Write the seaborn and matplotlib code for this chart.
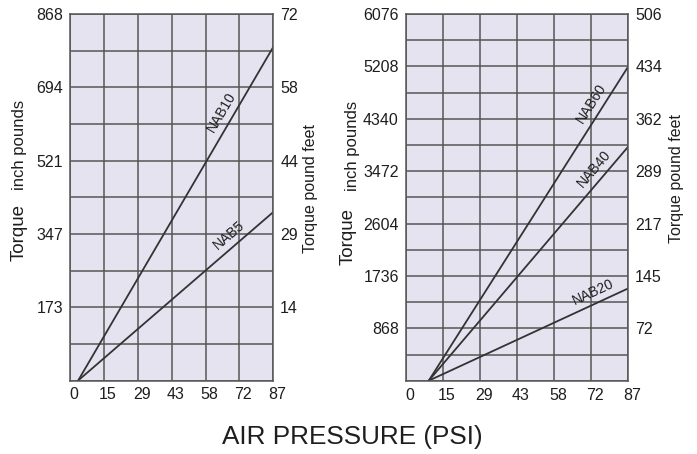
import numpy as np
import pandas as pd
import matplotlib
matplotlib.use("Agg")
import matplotlib.pyplot as plt
import seaborn as sns
from matplotlib.transforms import ScaledTranslation

# x axis (shared by both panels)
psi_labels = ["0", "15", "29", "43", "58", "72", "87"]
psi_max = 87

# small actuators panel
small_inlb_labels = ["173", "347", "521", "694", "868"]
small_ftlb_labels = ["14", "29", "44", "58", "72"]
small_inlb_max = 868
small_psi = [3.5, 87]
nab10 = [0, 790]
nab5 = [0, 399]

# large actuators panel
large_inlb_labels = ["868", "1736", "2604", "3472", "4340", "5208", "6076"]
large_ftlb_labels = ["72", "145", "217", "289", "362", "434", "506"]
large_inlb_max = 6076
large_psi = [9, 87]
nab60 = [0, 5208]
nab40 = [0, 3880]
nab20 = [0, 1530]

face_c = "#e6e3f0"
grid_c = "#565656"
line_c = "#333333"
text_c = "#1e1e1e"

sns.set_theme(style="white")
plt.rcParams["font.family"] = ["Liberation Sans", "DejaVu Sans"]


def make_df(psi, series):
    rows = []
    for name, vals in series.items():
        for p, v in zip(psi, vals):
            rows.append({"model": name, "psi": p, "torque": v})
    return pd.DataFrame(rows)


df_small = make_df(small_psi, {"NAB10": nab10, "NAB5": nab5})
df_large = make_df(large_psi, {"NAB60": nab60, "NAB40": nab40, "NAB20": nab20})

fig = plt.figure(figsize=(6.97, 4.54), dpi=100)
ax_l = fig.add_axes([70 / 697, 1 - 380.5 / 454, 203.3 / 697, 366.5 / 454])
ax_r = fig.add_axes([405.7 / 697, 1 - 380.7 / 454, 222.6 / 697, 366.7 / 454])


def draw_panel(ax, df, ymax, left_labels, right_labels, label_x, lab_pos):
    ax.set_facecolor(face_c)
    models = df["model"].unique().tolist()
    sns.lineplot(data=df, x="psi", y="torque", hue="model", hue_order=models,
                 palette={m: line_c for m in models}, legend=False, ax=ax, lw=1.3)
    ax.set_xlim(0, psi_max)
    ax.set_ylim(0, ymax)
    n = len(left_labels)
    major = np.linspace(0, ymax, n + 1)[1:]
    minor = np.linspace(0, ymax, 2 * n + 1)
    ax.set_yticks(major, labels=left_labels)
    ax.set_yticks(minor, minor=True)
    ax.set_xticks(np.linspace(0, psi_max, len(psi_labels)), labels=psi_labels)
    ax.grid(True, which="both", color=grid_c, lw=1.1)
    ax.set_axisbelow(True)
    ax.tick_params(which="both", length=0, pad=5, labelsize=11.5, colors=text_c)
    ax.set_xlabel("")
    ax.set_ylabel("")
    for sp in ax.spines.values():
        sp.set_color(grid_c)
        sp.set_linewidth(1.1)
    shift = ScaledTranslation(0.04, 0, fig.dpi_scale_trans)
    for lab in ax.get_xticklabels():
        lab.set_transform(lab.get_transform() + shift)

    ax2 = ax.twinx()
    ax2.set_ylim(0, ymax)
    ax2.set_yticks(major, labels=right_labels)
    ax2.tick_params(length=0, pad=5, labelsize=11.5, colors=text_c)
    for sp in ax2.spines.values():
        sp.set_visible(False)

    # labels written along each line
    for name in models:
        d = df[df["model"] == name]
        x0, x1 = d["psi"].iloc[0], d["psi"].iloc[1]
        y0, y1 = d["torque"].iloc[0], d["torque"].iloc[1]
        p0 = ax.transData.transform((x0, y0))
        p1 = ax.transData.transform((x1, y1))
        ang = np.arctan2(p1[1] - p0[1], p1[0] - p0[0])
        xa = label_x[name]
        ya = y0 + (y1 - y0) * (xa - x0) / (x1 - x0)
        off = 8.3
        ax.annotate(name, xy=(xa, ya), xytext=(-np.sin(ang) * off, np.cos(ang) * off),
                    textcoords="offset points", rotation=np.degrees(ang),
                    rotation_mode="anchor", ha="center", va="center",
                    fontsize=10, color=text_c)

    # axis titles
    ax.annotate("inch pounds", xy=(0, lab_pos["inch_y"]), xycoords="axes fraction",
                xytext=(lab_pos["inch_dx"] * 0.72, 0), textcoords="offset points",
                rotation=90, ha="center", va="center", fontsize=12, color=text_c)
    ax.annotate("Torque", xy=(0, lab_pos["torque_y"]), xycoords="axes fraction",
                xytext=(lab_pos["torque_dx"] * 0.72, 0), textcoords="offset points",
                rotation=90, ha="center", va="center", fontsize=13.5, color=text_c)
    ax.annotate("Torque pound feet", xy=(1, lab_pos["feet_y"]), xycoords="axes fraction",
                xytext=(lab_pos["feet_dx"] * 0.72, 0), textcoords="offset points",
                rotation=90, ha="center", va="center", fontsize=11.5, color=text_c)


draw_panel(ax_l, df_small, small_inlb_max, small_inlb_labels, small_ftlb_labels,
           {"NAB10": 69.2, "NAB5": 71.3},
           {"inch_y": 0.643, "inch_dx": -50, "torque_y": 0.405, "torque_dx": -51,
            "feet_y": 0.525, "feet_dx": 36.7})
draw_panel(ax_r, df_large, large_inlb_max, large_inlb_labels, large_ftlb_labels,
           {"NAB60": 76.3, "NAB40": 77.0, "NAB20": 75.2},
           {"inch_y": 0.640, "inch_dx": -53.7, "torque_y": 0.392, "torque_dx": -57.7,
            "feet_y": 0.552, "feet_dx": 47.7})

fig.text(352.5 / 697, 1 - 437 / 454, "AIR PRESSURE (PSI)", ha="center", va="center",
         fontsize=18.8, color=text_c)

fig.savefig("out.png", dpi=100)
